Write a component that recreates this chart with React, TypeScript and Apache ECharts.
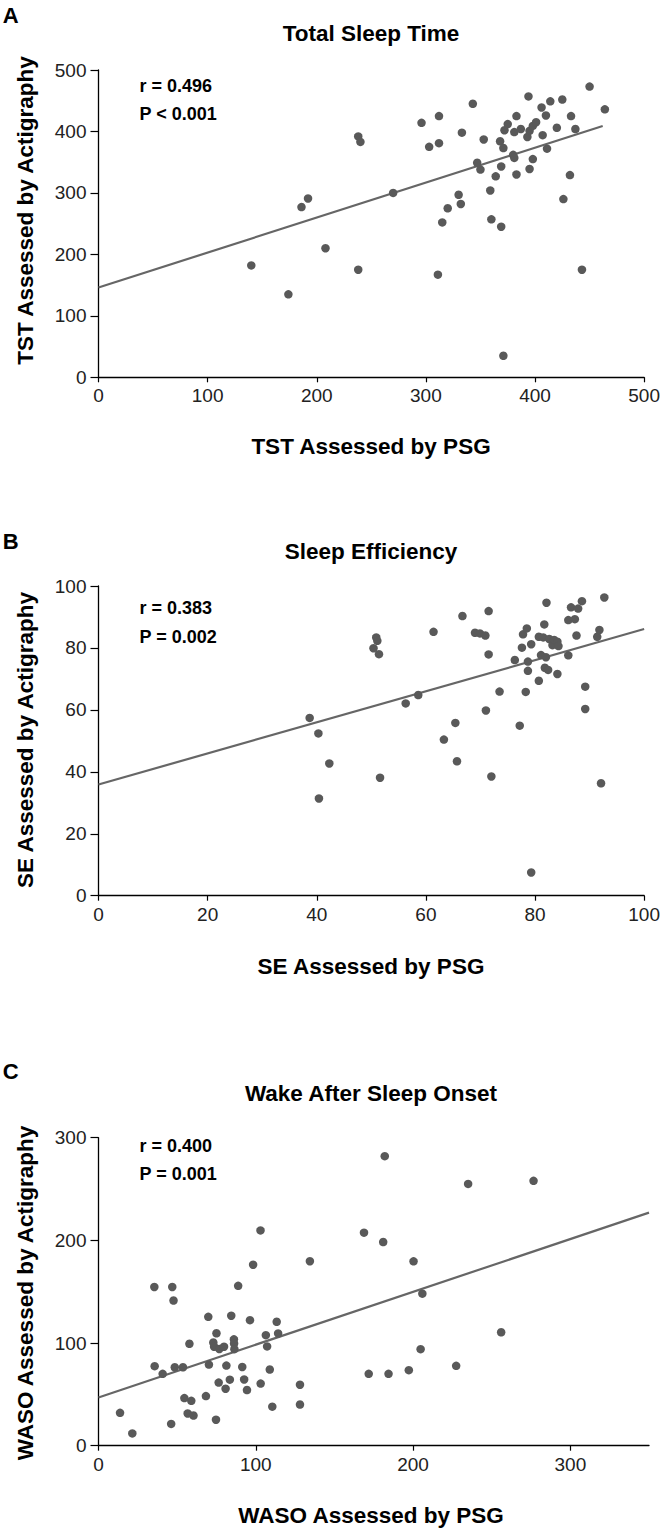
import React, { useEffect, useRef } from "react";
import * as echarts from "echarts";

// Panel A: Total Sleep Time (min)
const tstPSG = [140,174,186,192,208,238,238,240,270,296,303,311,312,312,315,320,330,332,333,343,347,350,353,359,360,364,368,369,369,371,371,372,375,380,381,381,383,383,387,393,394,395,395,398,398,401,406,407,410,411,414,420,425,426,432,433,437,443,450,464];
const tstAct = [182,135,277,291,210,175,392,383,300,414,375,167,425,381,252,275,297,282,398,445,349,338,387,304,257,327,384,343,245,373,35,402,412,362,357,399,425,330,404,391,457,401,339,409,355,415,439,394,426,372,449,406,452,290,329,425,404,175,473,436];
const tstFitX = [0, 462];
const tstFitY = [146, 409];

// Panel B: Sleep Efficiency (%)
const sePSG = [38.7,40.3,40.4,42.3,50.9,51.1,50.4,51.4,51.6,56.3,58.6,61.4,63.3,65.4,65.7,66.7,69.0,69.9,70.9,71.0,71.5,71.5,72.0,73.5,76.3,77.2,77.6,77.8,78.3,78.5,78.7,78.7,79.3,79.3,80.7,80.7,81.1,81.5,81.7,81.8,82.0,82.1,82.4,82.6,83.2,83.5,84.1,84.1,84.3,86.1,86.1,86.6,87.3,87.6,87.9,88.6,89.2,89.2,91.4,91.8,92.1,92.7];
const seAct = [57.4,52.4,31.4,42.7,83.4,82.3,79.9,78.0,38.1,62.1,64.8,85.2,50.4,55.8,43.4,90.3,84.9,84.7,84.0,59.8,91.9,77.9,38.5,65.9,76.1,54.9,80.1,84.4,65.8,86.3,75.6,72.6,81.2,7.5,69.4,83.6,77.7,83.4,87.6,73.6,77.0,94.6,72.9,82.9,80.9,82.6,82.0,71.6,80.6,77.6,89.0,93.1,89.3,84.0,92.7,95.1,67.5,60.3,83.6,85.8,36.3,96.3];
const seFitX = [0, 100];
const seFitY = [35.9, 86.1];

// Panel C: Wake After Sleep Onset (min)
const wasoPSG = [13.7,21.5,35.5,35.7,40.8,46.2,46.9,47.7,48.5,53.7,54.6,56.7,57.8,59,60.4,68.3,69.8,70.2,73,73.5,74.7,75,76.4,76.8,79.8,80.8,81.3,83.5,84.4,86.1,86.2,86.4,88.8,91.4,92.6,94.4,96.3,98.3,103.1,103,106.4,107.2,108.9,110.5,113.3,114.2,128.1,128.1,134.4,168.8,171.8,181,182,184.4,197.3,200.3,204.8,205.9,227.4,235,256,276.6];
const wasoAct = [32,12,154.6,77.5,70,21.2,154.6,141.4,76.4,76.4,46.4,31.4,99.3,43.7,29.4,48.3,125.5,79,100.5,96.4,25.3,109.5,61.5,94.2,96.4,55.5,78,64.3,126.6,103.6,99.5,94,155.7,76.7,64.5,54.2,122.3,176.3,60.5,209.7,107.7,96.7,74.2,38,120.7,109.3,59.4,40.1,179.7,207.5,70,198.4,282,70,73.6,179.6,94,148.1,77.8,255,110.5,258];
const wasoFitX = [0, 350];
const wasoFitY = [47, 227];

const panelLetters = ["A", "B", "C"];
const panelTitles = ["Total Sleep Time", "Sleep Efficiency", "Wake After Sleep Onset"];
const xTitles = ["TST Assessed by PSG", "SE Assessed by PSG", "WASO Assessed by PSG"];
const yTitles = ["TST Assessed by Actigraphy", "SE Assessed by Actigraphy", "WASO Assessed by Actigraphy"];
const rTexts = ["r = 0.496", "r = 0.383", "r = 0.400"];
const pTexts = ["P < 0.001", "P = 0.002", "P = 0.001"];

const xMax = [500, 100, 350];
const xInterval = [100, 20, 100];
const xTicks = [[0,100,200,300,400,500],[0,20,40,60,80,100],[0,100,200,300]];
const yMax = [500, 100, 300];
const yInterval = [100, 20, 100];

const FONT = "'Liberation Sans', Arial, sans-serif";
const DOT = "#595959";
const LINE = "#666666";

const zip = (a: number[], b: number[]) => a.map((v, i) => [v, b[i]]);

export default function App() {
  const ref = useRef<HTMLDivElement>(null);
  useEffect(() => {
    if (!ref.current) return;
    const chart = echarts.init(ref.current, null, { renderer: "svg" });
    const grids = [
      { left: 98.5, width: 550.5, top: 70, height: 307.3 },
      { left: 98.5, width: 550.5, top: 586, height: 309.7 },
      { left: 98.5, width: 550.5, top: 1137.7, height: 308 },
    ];
    const labelStyle = { fontSize: 19, color: "#222", fontFamily: FONT };
    const xAxes = [0, 1, 2].map((i) => ({
      type: "value",
      gridIndex: i,
      min: 0,
      max: xMax[i],
      interval: xInterval[i],
      axisLine: { show: true, onZero: false, lineStyle: { color: "#000", width: 1.3 } },
      axisTick: { show: true, length: 5, customValues: xTicks[i], lineStyle: { color: "#000", width: 1.2 } },
      axisLabel: { ...labelStyle, margin: 9, customValues: xTicks[i] },
      splitLine: { show: false },
    }));
    const yAxes = [0, 1, 2].map((i) => ({
      type: "value",
      gridIndex: i,
      min: 0,
      max: yMax[i],
      interval: yInterval[i],
      axisLine: { show: true, onZero: false, lineStyle: { color: "#000", width: 1.3 } },
      axisTick: { show: true, length: 8, lineStyle: { color: "#000", width: 1.2 } },
      axisLabel: { ...labelStyle, margin: 12 },
      splitLine: { show: false },
    }));
    const scatterData = [zip(tstPSG, tstAct), zip(sePSG, seAct), zip(wasoPSG, wasoAct)];
    const fitData = [zip(tstFitX, tstFitY), zip(seFitX, seFitY), zip(wasoFitX, wasoFitY)];
    const series: any[] = [];
    for (let i = 0; i < 3; i++) {
      series.push({
        type: "line",
        xAxisIndex: i,
        yAxisIndex: i,
        data: fitData[i],
        showSymbol: false,
        symbol: "none",
        lineStyle: { color: LINE, width: 2.2 },
        z: 2,
      });
      series.push({
        type: "scatter",
        xAxisIndex: i,
        yAxisIndex: i,
        data: scatterData[i],
        symbol: "circle",
        symbolSize: 8.5,
        itemStyle: { color: DOT, opacity: 1 },
        z: 3,
      });
    }
    const letterY = [15, 541.7, 1071.7];
    const titleY = [33.3, 551.7, 1093];
    const xTitleY = [446.7, 966.7, 1515];
    const yTitleY = [210.5, 740, 1293];
    const rY = [85.7, 608.3, 1145.5];
    const pY = [113.7, 637, 1174];
    const graphic: any[] = [];
    const bold = (text: string, x: number, y: number, size: number, align = "center", rotation = 0) => ({
      type: "text",
      x,
      y,
      rotation,
      style: {
        text,
        x: 0,
        y: 0,
        fontSize: size,
        fontWeight: "bold",
        fontFamily: FONT,
        fill: "#000",
        align,
        verticalAlign: "middle",
      },
    });
    for (let i = 0; i < 3; i++) {
      graphic.push(bold(panelLetters[i], 10.6, letterY[i], 22));
      graphic.push(bold(panelTitles[i], 371, titleY[i], 22.5));
      graphic.push(bold(xTitles[i], 371, xTitleY[i], 22.5));
      graphic.push(bold(yTitles[i], 25.4, yTitleY[i], 22.5, "center", Math.PI / 2));
      graphic.push(bold(rTexts[i], 139.5, rY[i], 18, "left"));
      graphic.push(bold(pTexts[i], 139.5, pY[i], 18, "left"));
    }
    chart.setOption({
      animation: false,
      backgroundColor: "#fff",
      grid: grids,
      xAxis: xAxes,
      yAxis: yAxes,
      series,
      graphic,
    });
    return () => chart.dispose();
  }, []);
  return (
    <div
      ref={ref}
      style={{ position: "absolute", left: 0, top: 0, width: 663, height: 1530, background: "#fff" }}
    />
  );
}
